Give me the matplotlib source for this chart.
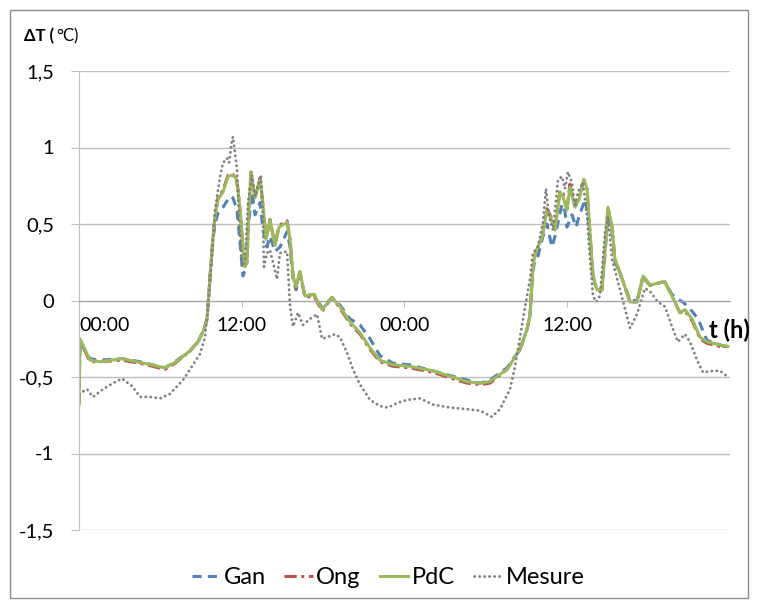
import matplotlib.pyplot as plt
from matplotlib.patches import Rectangle

# heures et valeurs
h_pdc = [0.00, 0.07, 0.81, 1.55, 3.17, 4.50, 6.34, 7.08, 8.18, 8.77, 9.22, 9.44, 9.66, 9.88,
         10.03, 10.25, 10.62, 10.99, 11.28, 11.58, 11.72, 11.94, 12.09, 12.24, 12.39, 12.53,
         12.68, 12.98, 13.35, 13.57, 13.79, 14.08, 14.45, 14.75, 15.34, 15.56, 15.78, 16.00,
         16.29, 16.66, 17.33, 17.92, 18.65, 19.24, 19.98, 20.72, 21.46, 22.19, 23.15, 24.40,
         26.10, 28.61, 29.57, 30.30, 31.56, 32.51, 33.03, 33.25, 33.32, 33.47, 33.62, 33.84,
         34.14, 34.36, 34.51, 34.73, 35.10, 35.46, 35.68, 35.98, 36.20, 36.57, 36.87, 37.23,
         37.46, 37.68, 37.90, 38.19, 38.56, 38.78, 39.00, 39.30, 39.52, 39.89, 40.63, 41.14,
         41.59, 42.10, 42.98, 43.21, 43.72, 44.31, 44.68, 45.20, 45.79, 46.30, 47.26, 47.85]
pdc = [-0.68, -0.25, -0.39, -0.40, -0.38, -0.405, -0.44, -0.405, -0.33, -0.27, -0.19, -0.12,
       0.15, 0.42, 0.55, 0.66, 0.71, 0.81, 0.82, 0.80, 0.73, 0.53, 0.33, 0.22, 0.25, 0.60,
       0.84, 0.67, 0.79, 0.62, 0.40, 0.53, 0.36, 0.48, 0.51, 0.40, 0.16, 0.09, 0.19, 0.03,
       0.04, -0.06, 0.02, -0.04, -0.14, -0.21, -0.31, -0.39, -0.42, -0.43, -0.46, -0.53,
       -0.54, -0.53, -0.45, -0.32, -0.19, -0.10, 0.00, 0.22, 0.30, 0.35, 0.41, 0.52, 0.59,
       0.55, 0.46, 0.71, 0.68, 0.59, 0.74, 0.61, 0.66, 0.79, 0.73, 0.44, 0.16, 0.07, 0.07,
       0.33, 0.61, 0.48, 0.27, 0.18, -0.01, -0.01, 0.16, 0.10, 0.12, 0.12, 0.03, -0.08,
       -0.06, -0.12, -0.24, -0.27, -0.29, -0.30]

ong = [-0.68, -0.26, -0.40, -0.40, -0.39, -0.41, -0.45, -0.41, -0.33, -0.27, -0.19, -0.12,
       0.15, 0.42, 0.55, 0.67, 0.72, 0.82, 0.83, 0.80, 0.73, 0.53, 0.33, 0.22, 0.25, 0.60,
       0.84, 0.67, 0.80, 0.62, 0.40, 0.53, 0.36, 0.49, 0.52, 0.40, 0.16, 0.08, 0.19, 0.02,
       0.03, -0.07, 0.02, -0.05, -0.15, -0.22, -0.32, -0.40, -0.43, -0.44, -0.47, -0.54,
       -0.55, -0.54, -0.45, -0.32, -0.19, -0.10, 0.00, 0.22, 0.30, 0.35, 0.41, 0.53, 0.60,
       0.56, 0.47, 0.72, 0.70, 0.60, 0.76, 0.62, 0.67, 0.79, 0.73, 0.44, 0.16, 0.07, 0.07,
       0.33, 0.61, 0.48, 0.27, 0.18, -0.01, -0.01, 0.16, 0.10, 0.12, 0.12, 0.03, -0.08,
       -0.07, -0.13, -0.25, -0.28, -0.30, -0.30]

h_gan = [0.00, 0.07, 0.81, 1.55, 3.17, 4.50, 6.34, 7.08, 8.18, 8.77, 9.22, 9.44, 9.66, 9.88,
         10.03, 10.25, 10.62, 11.13, 11.36, 11.65, 11.87, 12.09, 12.24, 12.46, 12.75, 12.98,
         13.35, 13.57, 13.86, 14.08, 14.45, 14.82, 15.34, 15.56, 15.78, 16.00, 16.29, 16.66,
         17.33, 17.92, 18.65, 19.24, 19.98, 20.72, 21.46, 22.19, 23.15, 24.40, 26.10, 28.61,
         29.57, 30.30, 31.56, 32.51, 33.03, 33.25, 33.32, 33.47, 33.62, 33.84, 34.21, 34.51,
         34.87, 35.10, 35.61, 35.83, 35.98, 36.35, 36.65, 36.87, 37.31, 37.53, 37.90, 38.19,
         38.56, 38.78, 39.00, 39.30, 39.52, 39.89, 40.63, 41.14, 41.59, 42.10, 42.98, 43.21,
         43.72, 44.31, 44.54, 45.20, 45.64, 46.30, 47.26, 47.85]
gan = [-0.66, -0.27, -0.38, -0.39, -0.38, -0.40, -0.44, -0.40, -0.33, -0.27, -0.19, -0.12,
       0.15, 0.40, 0.50, 0.57, 0.61, 0.68, 0.67, 0.59, 0.38, 0.16, 0.20, 0.46, 0.71, 0.56,
       0.64, 0.46, 0.35, 0.42, 0.32, 0.35, 0.45, 0.35, 0.14, 0.07, 0.17, 0.03, 0.04, -0.05,
       0.02, -0.03, -0.12, -0.16, -0.25, -0.36, -0.41, -0.42, -0.46, -0.52, -0.54, -0.52,
       -0.44, -0.32, -0.19, -0.10, 0.00, 0.20, 0.26, 0.29, 0.42, 0.50, 0.35, 0.42, 0.63,
       0.58, 0.48, 0.56, 0.48, 0.55, 0.66, 0.55, 0.16, 0.06, 0.07, 0.30, 0.55, 0.45, 0.25,
       0.18, 0.00, 0.00, 0.15, 0.10, 0.12, 0.12, 0.04, 0.00, -0.01, -0.07, -0.12, -0.26,
       -0.29, -0.31]

h_mes = [0.00, 0.59, 1.03, 1.77, 2.51, 3.17, 3.91, 4.50, 5.23, 5.97, 6.71, 7.67, 8.33, 8.92,
         9.29, 9.51, 9.81, 10.03, 10.40, 10.62, 10.91, 11.06, 11.28, 11.35, 11.65, 11.80,
         12.02, 12.24, 12.46, 12.75, 12.98, 13.42, 13.57, 13.64, 13.86, 14.08, 14.30, 14.60,
         14.82, 15.34, 15.56, 15.78, 16.15, 16.52, 17.03, 17.55, 17.92, 18.29, 18.87, 19.24,
         19.76, 20.20, 20.72, 21.46, 22.19, 22.78, 23.45, 24.18, 25.14, 26.10, 27.35, 28.61,
         29.57, 30.45, 31.04, 31.78, 32.15, 32.74, 33.25, 33.47, 33.84, 34.21, 34.43, 34.65,
         34.95, 35.32, 35.61, 35.83, 36.05, 36.35, 36.57, 36.79, 37.16, 37.46, 37.68, 37.90,
         38.12, 38.41, 38.78, 39.00, 39.30, 39.89, 40.63, 41.14, 41.73, 42.10, 42.69, 43.21,
         43.72, 44.16, 44.68, 45.05, 45.57, 46.01, 46.74, 47.26, 47.85]
mesure = [-0.61, -0.58, -0.63, -0.58, -0.54, -0.51, -0.56, -0.63, -0.63, -0.64, -0.61, -0.52,
          -0.43, -0.35, -0.24, -0.04, 0.31, 0.59, 0.81, 0.90, 0.93, 0.90, 1.05, 1.07, 0.86,
          0.53, 0.22, 0.25, 0.64, 0.82, 0.68, 0.82, 0.53, 0.22, 0.31, 0.33, 0.25, 0.14, 0.31,
          0.32, -0.04, -0.17, -0.08, -0.16, -0.12, -0.09, -0.25, -0.24, -0.22, -0.24, -0.34,
          -0.45, -0.55, -0.65, -0.69, -0.70, -0.67, -0.65, -0.64, -0.68, -0.70, -0.71, -0.72,
          -0.76, -0.71, -0.58, -0.43, -0.12, 0.14, 0.31, 0.35, 0.51, 0.73, 0.55, 0.46, 0.79,
          0.81, 0.73, 0.84, 0.77, 0.61, 0.71, 0.77, 0.55, 0.27, 0.03, -0.01, 0.03, 0.44, 0.55,
          0.27, 0.07, -0.18, -0.09, 0.08, 0.06, -0.01, -0.04, -0.17, -0.27, -0.22, -0.27,
          -0.39, -0.47, -0.46, -0.46, -0.50]

yticks = [-1.5, -1, -0.5, 0, 0.5, 1, 1.5]
ylabels = ['-1,5', '-1', '-0,5', '0', '0,5', '1', '1,5']
xticks = [0, 12, 24, 36]
xlabels = ['00:00', '12:00', '00:00', '12:00']

plt.rcParams['font.family'] = ['Lato', 'DejaVu Sans']

fig = plt.figure(figsize=(7.58, 6.09), dpi=100)
ax = fig.add_axes([79/758, 1 - 530/609, 651/758, 459/609])

# axe des x sur y = 0 (avant de regler les ticks, sinon ils sont remis a zero)
for s in ['top', 'right']:
    ax.spines[s].set_visible(False)
ax.spines['bottom'].set_position(('data', 0))
ax.spines['bottom'].set_color('#A6A6A6')
ax.spines['left'].set_color('#BFBFBF')

ax.plot(h_gan, gan, color='#4F81BD', lw=2.2, dashes=(3, 2), label='Gan')
ax.plot(h_pdc, ong, color='#C0504D', lw=2.2, dashes=(4, 1.5, 1, 1.5), label='Ong')
ax.plot(h_pdc, pdc, color='#9BBB59', lw=2.2, label='PdC')
ax.plot(h_mes, mesure, color='#808080', lw=2.0, dashes=(0.1, 1.7),
        dash_capstyle='round', label='Mesure')

ax.set_xlim(0, 48)
ax.set_ylim(-1.5, 1.5)
ax.set_yticks(yticks)
ax.set_yticklabels(ylabels, fontsize=14.5)
ax.set_xticks(xticks)
ax.set_xticklabels(xlabels, fontsize=14)
ax.get_xticklabels()[0].set_ha('left')
ax.grid(axis='y', color='#BFBFBF', lw=1)
ax.set_axisbelow(True)
ax.tick_params(axis='y', length=6, color='#BFBFBF', pad=12)
ax.tick_params(axis='x', length=4, color='#BFBFBF', pad=8)

fig.text(24/758, 1 - 36/609, 'ΔT (', fontsize=12, fontweight='bold', va='center')
fig.text(56/758, 1 - 36/609, '°C)', fontsize=12, va='center')
fig.text(709/758, 1 - 330/609, 't (h)', fontsize=17, fontweight='bold', va='center')

ax.legend(loc='center', bbox_to_anchor=(388/758, 1 - 578/609), bbox_transform=fig.transFigure,
          ncol=4, frameon=False, fontsize=17, handlelength=1.2, columnspacing=0.8,
          handletextpad=0.15)

fig.patches.append(Rectangle((10/758, 11/609), 738/758, 588/609, transform=fig.transFigure,
                             fill=False, edgecolor='#8C8C8C', lw=1))

fig.savefig('out.png', dpi=100)
